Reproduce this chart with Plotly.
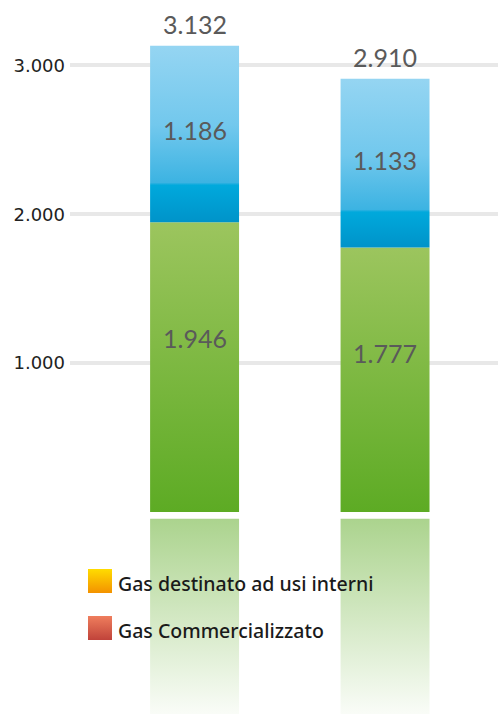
import plotly.graph_objects as go


#-----DATA
categories = ["2012", "2013"]
gas_green = [1946, 1777]
gas_blue = [1186, 1133]
totals = [3132, 2910]
tick_vals = [1000, 2000, 3000]
tick_labels = ["1.000", "2.000", "3.000"]
legend_labels = ["Gas destinato ad usi interni", "Gas Commercializzato"]


def fmt(v):
    return "{:,}".format(v).replace(",", ".")


BAR_W = 0.467
GAP = 45  # gap between bar and its reflection, in data units

green_scale = [[0, "#5dab24"], [1, "#9cc55e"]]
blue_scale = [[0, "#0093c9"], [0.21, "#00a9dc"], [0.225, "#3cb3e2"],
              [0.55, "#72c8ed"], [1, "#95d5f2"]]
mirror_scale = [[0, "rgba(94,171,37,0)"], [1, "rgba(94,171,37,0.52)"]]


def bar_path(i, base, top):
    x0 = i - BAR_W / 2
    x1 = i + BAR_W / 2
    return [x0, x1, x1, x0, x0], [base, base, top, top, base]


fig = go.Figure()

for i, (g, b) in enumerate(zip(gas_green, gas_blue)):
    # green segment
    xs, ys = bar_path(i, 0, g)
    fig.add_trace(go.Scatter(x=xs, y=ys, mode="lines", fill="toself",
                             line=dict(width=0),
                             fillgradient=dict(type="vertical", colorscale=green_scale),
                             name=categories[i], hoverinfo="skip", showlegend=False))
    # blue segment
    xs, ys = bar_path(i, g, g + b)
    fig.add_trace(go.Scatter(x=xs, y=ys, mode="lines", fill="toself",
                             line=dict(width=0),
                             fillgradient=dict(type="vertical", colorscale=blue_scale),
                             name=categories[i], hoverinfo="skip", showlegend=False))
    # reflection below the baseline
    xs, ys = bar_path(i, -GAP - g, -GAP)
    fig.add_trace(go.Scatter(x=xs, y=ys, mode="lines", fill="toself",
                             line=dict(width=0),
                             fillgradient=dict(type="vertical", colorscale=mirror_scale,
                                               start=-1450, stop=-GAP),
                             hoverinfo="skip", showlegend=False))

    label_font = dict(family="Lato", size=25, color="#5a5a5a")
    fig.add_annotation(x=i, y=g * 0.6, text=fmt(g), showarrow=False, font=label_font)
    fig.add_annotation(x=i, y=g + b * 0.52, text=fmt(b), showarrow=False, font=label_font)
    fig.add_annotation(x=i, y=totals[i], text=fmt(totals[i]), showarrow=False,
                       yanchor="bottom", yshift=5, font=label_font)

# legend drawn on an overlay axis measured in pixels
legend_top = ["#ffdc00", "#ef7e5d"]
legend_bottom = ["#f39200", "#c0433a"]
legend_y = [581, 628]
for lab, c0, c1, yy in zip(legend_labels, legend_top, legend_bottom, legend_y):
    fig.add_trace(go.Scatter(x=[100], y=[yy], mode="markers", xaxis="x2", yaxis="y2",
                             marker=dict(symbol="square", size=24, color=c0,
                                         line=dict(width=0),
                                         gradient=dict(type="vertical", color=c1)),
                             name=lab, hoverinfo="skip", showlegend=False))
    fig.add_annotation(x=116, y=yy + 2, xref="x2", yref="y2", text=lab, showarrow=False,
                       xanchor="left",
                       font=dict(family="Noto Sans", size=19.5, color="#1a1a1a", weight=500))

fig.update_layout(
    width=498,
    height=714,
    margin=dict(l=70, r=0, t=0, b=0),
    paper_bgcolor="white",
    plot_bgcolor="white",
    showlegend=False,
    xaxis=dict(range=[-0.654, 1.593], visible=False),
    yaxis=dict(range=[-1357, 3439], tickvals=tick_vals, ticktext=tick_labels,
               gridcolor="#e8e8e8", gridwidth=4, zeroline=False, showline=False,
               ticks="", ticklabelstandoff=4,
               tickfont=dict(family="DejaVu Sans", size=18, color="#222222")),
    xaxis2=dict(range=[70, 498], overlaying="x", anchor="y2", visible=False),
    yaxis2=dict(range=[714, 0], overlaying="y", anchor="x2", visible=False),
)

fig.write_html("out.html", config={"displayModeBar": False},
               post_script="document.body.style.margin='0';")
